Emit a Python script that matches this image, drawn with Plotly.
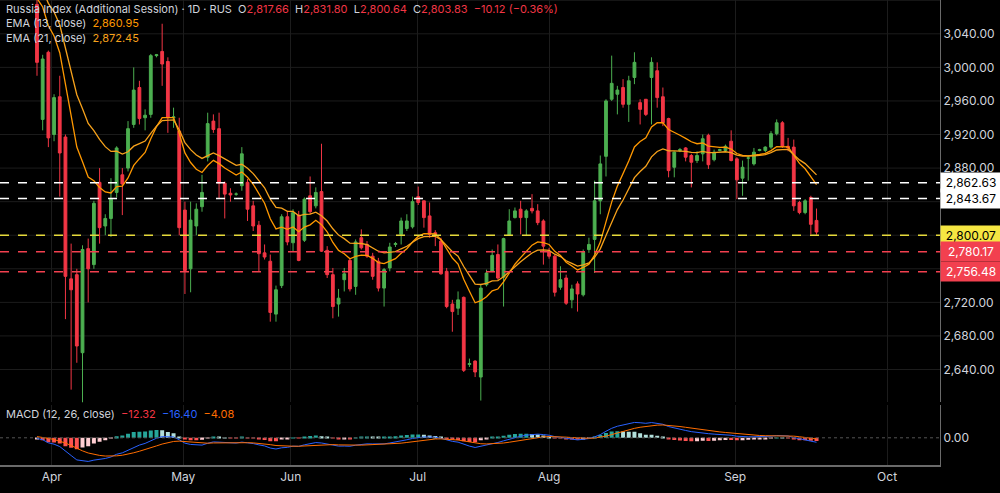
import plotly.graph_objects as go

# daily candles (oldest first)
opens = [3075, 2938, 3018, 2920, 2965, 2917, 2748, 2753, 2660, 2784, 2765, 2863, 2811, 2820, 2851, 2872, 2880, 2932, 2976, 2940,
         2944, 3014, 3019, 3007, 2940, 2924, 2830, 2760, 2811, 2834, 2893, 2936, 2927, 2862, 2850, 2849, 2859, 2863, 2835, 2812,
         2779, 2769, 2706, 2740, 2822, 2791, 2824, 2794, 2847, 2835, 2852, 2782, 2753, 2718, 2747, 2770, 2739, 2797, 2789, 2775,
         2769, 2737, 2761, 2789, 2801, 2808, 2810, 2846, 2841, 2823, 2803, 2793, 2757, 2718, 2713, 2726, 2646, 2650, 2631, 2741,
         2757, 2777, 2750, 2800, 2821, 2831, 2821, 2832, 2829, 2817, 2780, 2775, 2738, 2749, 2723, 2742, 2729, 2783, 2795, 2841,
         2894, 2962, 2968, 2976, 2956, 2988, 2958, 2962, 2988, 2996, 2965, 2939, 2881, 2901, 2904, 2895, 2889, 2897, 2919, 2890,
         2901, 2901, 2912, 2891, 2868, 2892, 2885, 2901, 2901, 2905, 2921, 2934, 2906, 2905, 2839, 2827, 2845, 2817.66]
highs = [3090, 3015, 3020, 2968, 2990, 2920, 2790, 2760, 2788, 2796, 2841, 2880, 2825, 2868, 2906, 2880, 2936, 3000, 2984, 2950,
         3016, 3016, 3052, 3012, 2952, 2940, 2840, 2840, 2838, 2872, 2946, 2944, 2946, 2864, 2856, 2851, 2905, 2867, 2841, 2817,
         2789, 2777, 2740, 2825, 2829, 2831, 2829, 2845, 2870, 2857, 2909, 2787, 2761, 2736, 2761, 2773, 2795, 2807, 2793, 2779,
         2773, 2761, 2791, 2792, 2821, 2825, 2846, 2858, 2841, 2839, 2806, 2797, 2761, 2723, 2733, 2727, 2653, 2651, 2741, 2759,
         2783, 2789, 2797, 2831, 2833, 2841, 2831, 2849, 2837, 2819, 2785, 2777, 2763, 2753, 2741, 2745, 2783, 2797, 2865, 2895,
         2962, 3014, 2978, 2986, 2990, 3018, 2962, 2962, 3012, 3006, 2976, 2940, 2900, 2904, 2905, 2897, 2900, 2920, 2921, 2902,
         2903, 2908, 2925, 2893, 2889, 2895, 2904, 2903, 2906, 2924, 2938, 2936, 2916, 2914, 2841, 2843, 2847, 2831.80]
lows = [2990, 2925, 2905, 2912, 2846, 2700, 2616, 2648, 2600, 2720, 2760, 2790, 2800, 2798, 2845, 2824, 2876, 2928, 2932, 2925,
        2940, 3012, 2978, 2922, 2928, 2800, 2730, 2732, 2800, 2828, 2888, 2922, 2844, 2820, 2840, 2847, 2853, 2817, 2805, 2757,
        2771, 2697, 2697, 2737, 2788, 2781, 2769, 2792, 2825, 2832, 2780, 2749, 2701, 2703, 2733, 2733, 2729, 2783, 2773, 2747,
        2733, 2715, 2757, 2786, 2789, 2805, 2808, 2836, 2809, 2797, 2787, 2753, 2713, 2685, 2705, 2637, 2643, 2631, 2603, 2739,
        2756, 2747, 2715, 2799, 2820, 2801, 2799, 2826, 2812, 2765, 2772, 2727, 2735, 2717, 2713, 2709, 2727, 2779, 2755, 2825,
        2870, 2960, 2944, 2952, 2935, 2980, 2932, 2942, 2932, 2952, 2930, 2869, 2869, 2899, 2888, 2857, 2886, 2888, 2879, 2888,
        2900, 2900, 2888, 2843, 2847, 2865, 2883, 2900, 2899, 2903, 2919, 2904, 2900, 2829, 2825, 2825, 2801, 2800.64]
closes = [3006, 3010, 2916, 2964, 2898, 2751, 2735, 2668, 2783, 2760, 2838, 2809, 2820, 2843, 2904, 2861, 2927, 2973, 2939, 2943,
          3014, 3015, 3004, 2940, 2941, 2809, 2758, 2818, 2831, 2851, 2933, 2926, 2862, 2849, 2848, 2849, 2897, 2831, 2811, 2778,
          2774, 2708, 2735, 2822, 2792, 2827, 2770, 2843, 2828, 2851, 2781, 2753, 2715, 2725, 2754, 2736, 2792, 2785, 2775, 2751,
          2737, 2759, 2786, 2790, 2817, 2817, 2840, 2839, 2821, 2801, 2801, 2754, 2715, 2709, 2723, 2639, 2647, 2637, 2737, 2755,
          2776, 2749, 2796, 2817, 2829, 2821, 2829, 2829, 2815, 2787, 2775, 2732, 2747, 2719, 2736, 2730, 2780, 2789, 2841, 2885,
          2960, 2981, 2973, 2956, 2984, 3006, 2950, 2944, 3006, 2964, 2934, 2877, 2899, 2902, 2893, 2887, 2895, 2915, 2884, 2899,
          2902, 2906, 2889, 2866, 2881, 2892, 2899, 2902, 2905, 2921, 2934, 2906, 2904, 2835, 2827, 2841, 2813, 2803.83]

# indicator values just before the first visible bar
ema13_seed = 3095
ema21_seed = 3110
ema12_seed = 3090
ema26_seed = 3085
signal_seed = 6

# month labels on the bar-index axis
month_pos = [2.6, 25.7, 44.6, 66.9, 90.0, 122.7, 149.4]
month_labels = ["Apr", "May", "Jun", "Jul", "Aug", "Sep", "Oct"]

# horizontal levels: price, line colour, label bg, label text colour
levels = [(2862.63, "#ffffff", "#ffffff", "#000000"),
          (2843.67, "#ffffff", "#ffffff", "#000000"),
          (2800.07, "#e6d93a", "#f5e642", "#000000"),
          (2780.17, "#f2404f", "#f2404f", "#ffffff"),
          (2756.48, "#f2404f", "#f2404f", "#ffffff")]

# ticks hidden behind the level labels are left out
price_ticks = [2640, 2680, 2720, 2880, 2920, 2960, 3000, 3040, 3080]
grid_ticks = [2640, 2680, 2720, 2760, 2800, 2840, 2880, 2920, 2960, 3000, 3040, 3080]


def ema(values, span, seed):
    k = 2 / (span + 1)
    out = []
    prev = seed
    for v in values:
        prev = v * k + prev * (1 - k)
        out.append(prev)
    return out


x = list(range(len(closes)))
ema13 = ema(closes, 13, ema13_seed)
ema21 = ema(closes, 21, ema21_seed)
macd = [a - b for a, b in zip(ema(closes, 12, ema12_seed), ema(closes, 26, ema26_seed))]
signal = ema(macd, 9, signal_seed)
hist = [m - s for m, s in zip(macd, signal)]

hist_colors = []
for i, h in enumerate(hist):
    prev = hist[i - 1] if i else h
    if h >= 0:
        hist_colors.append("#26a69a" if h >= prev else "#b2dfdb")
    else:
        hist_colors.append("#ff5252" if h < prev else "#ffcdd2")

fig = go.Figure()
fig.add_trace(go.Candlestick(
    x=x, open=opens, high=highs, low=lows, close=closes,
    increasing=dict(line=dict(color="#4caf50", width=1), fillcolor="#4caf50"),
    decreasing=dict(line=dict(color="#f23645", width=1), fillcolor="#f23645"),
    whiskerwidth=0, showlegend=False, hoverinfo="skip"))
fig.add_trace(go.Scatter(x=x, y=ema13, mode="lines", line=dict(color="#ff9800", width=1.3), showlegend=False))
fig.add_trace(go.Scatter(x=x, y=ema21, mode="lines", line=dict(color="#f7a21b", width=1.3), showlegend=False))

fig.add_trace(go.Bar(x=x, y=hist, marker_color=hist_colors, marker_line_width=0, yaxis="y2", showlegend=False))
fig.add_trace(go.Scatter(x=x, y=macd, mode="lines", line=dict(color="#2962ff", width=1), yaxis="y2", showlegend=False))
fig.add_trace(go.Scatter(x=x, y=signal, mode="lines", line=dict(color="#ff6d00", width=1), yaxis="y2", showlegend=False))

for g in grid_ticks:
    fig.add_shape(type="line", xref="paper", x0=0, x1=1, yref="y", y0=g, y1=g,
                  line=dict(color="#1c1c1c", width=1), layer="below")

for price, lc, bg, fc in levels:
    fig.add_shape(type="line", xref="paper", x0=0, x1=1, yref="y", y0=price, y1=price,
                  line=dict(color=lc, width=1.5, dash="dash"))
    fig.add_annotation(xref="paper", x=1, yref="y", y=price, xanchor="left", showarrow=False,
                       text=f"{price:,.2f}", bgcolor=bg, font=dict(color=fc, size=12),
                       borderpad=2, width=56)

fig.add_shape(type="line", xref="paper", x0=0, x1=1, yref="y2", y0=0, y1=0,
              line=dict(color="#555555", width=1, dash="dot"))

grey = "#d1d4dc"
legend_top = ('Russia Index (Additional Session) · 1D · RUS  O<span style="color:#f23645">2,817.66</span>  '
              'H<span style="color:#f23645">2,831.80</span>  L<span style="color:#f23645">2,800.64</span>  '
              'C<span style="color:#f23645">2,803.83</span>  <span style="color:#f23645">−10.12 (−0.36%)</span>')
fig.add_annotation(xref="paper", yref="paper", x=0.004, y=1.0, xanchor="left", yanchor="top", showarrow=False,
                   align="left", font=dict(color=grey, size=11),
                   text=legend_top + '<br>EMA (13, close)  <span style="color:#ff9800">2,860.95</span>'
                        '<br>EMA (21, close)  <span style="color:#f7a21b">2,872.45</span>')
fig.add_annotation(xref="paper", yref="paper", x=0.004, y=0.128, xanchor="left", yanchor="top", showarrow=False,
                   font=dict(color=grey, size=11),
                   text='MACD (12, 26, close)  <span style="color:#f23645">−12.32</span>  '
                        '<span style="color:#2962ff">−16.40</span>  <span style="color:#ff6d00">−4.08</span>')

lo = min(min(macd), min(hist)) * 1.15
hi = -lo * 0.55 / 0.45

fig.update_layout(
    width=1000, height=493,
    paper_bgcolor="#000000", plot_bgcolor="#000000",
    margin=dict(l=0, r=60, t=0, b=28),
    font=dict(family="Inter, Roboto, sans-serif", color=grey, size=12),
    bargap=0.3,
    xaxis=dict(range=[-6.5, 158.7], tickvals=month_pos, ticktext=month_labels,
               showgrid=True, gridcolor="#1c1c1c", zeroline=False, rangeslider=dict(visible=False),
               showline=True, linecolor="#6a6a6a", linewidth=2, ticks="", anchor="y2"),
    yaxis=dict(domain=[0.135, 1], range=[2601, 3080.3], side="right", tickvals=price_ticks,
               tickformat=",.2f", showgrid=False, zeroline=False,
               showline=True, linecolor="#6a6a6a", ticks="", tickfont=dict(size=12)),
    yaxis2=dict(domain=[0, 0.13], range=[lo, hi], side="right", tickvals=[0], ticktext=["0.00"],
                showgrid=False, zeroline=False, showline=True, linecolor="#6a6a6a", ticks=""),
)

fig.write_html("out.html", config={"displayModeBar": False},
               post_script="document.body.style.margin='0';document.body.style.overflow='hidden';")
